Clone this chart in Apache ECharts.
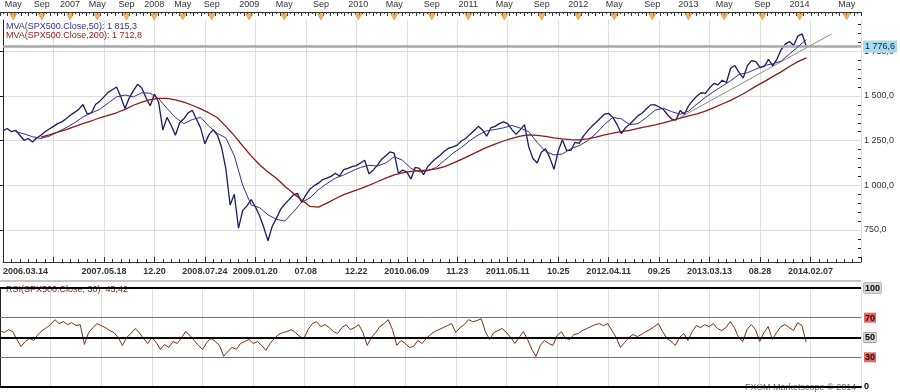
<!DOCTYPE html>
<html><head><meta charset="utf-8">
<script src="https://cdn.jsdelivr.net/npm/echarts@6/dist/echarts.min.js"></script>
<style>html,body{margin:0;padding:0;background:#fff}#c{width:900px;height:392px}</style>
</head><body><div id="c"></div>
<script>
// x unit = trading week index; price & RSI every 2 weeks, moving averages every 4 weeks
const priceStep = 2;
const maStep = 4;
const close = [
1305,1318,1300,1308,1280,1252,1262,1242,1265,1280,
1300,1315,1330,1345,1355,1372,1392,1408,1425,1452,
1400,1405,1452,1470,1495,1520,1535,1550,1495,1430,
1488,1530,1565,1545,1490,1445,1510,1465,1310,1380,
1335,1280,1350,1372,1405,1420,1370,1320,1232,1285,
1310,1280,1210,1090,890,950,760,860,885,920,
880,830,765,690,770,815,865,895,920,945,
955,905,945,980,998,1012,1032,1040,1050,1068,
1052,1088,1095,1105,1110,1125,1140,1065,1085,1112,
1145,1165,1187,1180,1068,1085,1075,1035,1100,1095,
1060,1105,1130,1152,1170,1192,1208,1215,1225,1248,
1262,1285,1305,1330,1310,1275,1322,1330,1345,1355,
1345,1312,1285,1312,1340,1215,1150,1125,1185,1205,
1155,1090,1190,1255,1195,1195,1240,1235,1275,1305,
1330,1352,1375,1398,1402,1380,1340,1290,1322,1342,
1365,1390,1405,1428,1450,1450,1438,1425,1395,1370,
1365,1418,1398,1445,1475,1500,1518,1515,1545,1570,
1562,1588,1575,1655,1670,1632,1600,1670,1698,1692,
1658,1665,1705,1668,1705,1758,1790,1805,1782,1835,
1848,1776.6];
const ma50Start = 6;
const ma50 = [
1300,1288,1272,1262,1275,1298,1322,1350,1382,1405,
1425,1460,1495,1505,1495,1518,1515,1485,1430,1380,
1345,1368,1380,1330,1290,1265,1165,1000,890,875,
835,810,800,850,905,930,975,1010,1040,1058,
1080,1100,1112,1108,1125,1160,1140,1095,1075,1082,
1100,1140,1180,1212,1250,1282,1305,1312,1322,1335,
1320,1300,1240,1190,1170,1175,1205,1222,1250,1290,
1340,1380,1372,1340,1345,1380,1420,1432,1412,1398,
1415,1455,1492,1525,1555,1585,1620,1630,1650,1670,
1680,1695,1735,1775,1815.3];
const ma200Start = 18;
const ma200 = [
1270,1282,1297,1312,1328,1345,1360,1378,1392,1406,
1425,1448,1466,1480,1487,1486,1478,1465,1448,1428,
1405,1378,1330,1278,1220,1165,1115,1075,1040,995,
955,918,882,878,900,925,948,965,982,1000,
1020,1040,1058,1070,1078,1082,1085,1092,1105,1124,
1145,1168,1190,1212,1230,1248,1262,1275,1282,1280,
1274,1266,1260,1256,1254,1260,1270,1282,1292,1300,
1308,1318,1328,1338,1350,1362,1376,1388,1400,1415,
1435,1455,1475,1500,1525,1555,1580,1608,1635,1665,
1692,1712.8];
const rsi30 = [
57,55,58,56,48,41,46,49,47,53,
57,60,63,68,64,66,63,65,62,63,
43,55,60,64,62,60,57,55,50,42,
50,54,59,55,49,44,50,45,38,43,
40,46,44,50,56,52,47,42,38,45,
49,46,42,31,36,40,38,44,46,48,
44,46,42,37,44,49,53,55,56,58,
55,51,49,58,64,66,61,63,60,56,
54,60,63,58,60,63,55,42,50,55,
61,64,68,58,42,47,44,40,41,47,
44,49,53,56,58,60,62,64,55,60,
63,68,66,67,69,56,48,55,57,59,
55,50,44,50,56,48,38,31,42,47,
44,42,52,56,49,48,53,54,57,59,
61,63,64,62,64,57,50,40,45,50,
53,51,53,56,58,61,64,56,49,46,
42,50,54,47,56,62,60,63,61,64,
59,57,60,66,60,50,46,58,63,58,
46,55,61,48,55,61,63,60,57,65,
62,45.42];
const trendLine = [[322, 1380], [394, 1847]];
const topTickWeeks = [6.3,19.8,33.2,46.1,60,73.1,86.6,100.3,118.1,134.7,152.1,169.8,186.8,204.6,221.9,239,256.7,274,291.1,309.1,326.2,343.2,361.2,378.9,401.2];
const topLabels = ['May','Sep','2007','May','Sep','2008','May','Sep','2009','May','Sep','2010','May','Sep','2011','May','Sep','2012','May','Sep','2013','May','Sep','2014','May'];
const bottomLabels = ['2006.03.14','','2007.05.18','12.20','2008.07.24','2009.01.20','07.08','12.22','2010.06.09','11.23','2011.05.11','10.25','2012.04.11','09.25','2013.03.13','08.28','2014.02.07',''];
const priceTicks = [750,1000,1250,1500,1750];
const priceMinorTicks = [600,650,700,800,850,900,950,1050,1100,1150,1200,1300,1350,1400,1450,1550,1600,1650,1700,1800,1850,1900];
const rsiTicks = [0,30,50,70,100];
const rsiLevels = [100,70,50,30];

function fmt(v, d) {
  const s = v.toFixed(d).split('.');
  return s[0].replace(/\B(?=(\d{3})+(?!\d))/g, ' ') + (d ? ',' + s[1] : '');
}
const lastClose = close[close.length - 1];
const FONT = '"Liberation Sans", Arial, sans-serif';

const chart = echarts.init(document.getElementById('c'), null, {renderer: 'canvas'});
const W = 861;
chart.setOption({
  animation: false,
  backgroundColor: '#fff',
  textStyle: {fontFamily: FONT},
  grid: [
    {left: 0, top: 20, width: W, height: 242},
    {left: 0, top: 288, width: W, height: 99},
    {left: 0, top: 12, width: W, height: 8}
  ],
  xAxis: [
    {gridIndex: 0, type: 'value', min: 0, max: 408, interval: 24, position: 'bottom',
     axisLine: {onZero: false, lineStyle: {color: '#333', width: 1}},
     axisTick: {inside: true, length: 5, lineStyle: {color: '#333'}},
     minorTick: {show: true, splitNumber: 6, length: 3, lineStyle: {color: '#333'}},
     axisLabel: {formatter: v => bottomLabels[Math.round(v / 24)] || '', fontSize: 9, fontWeight: 'bold', color: '#333', margin: 5, fontFamily: FONT, alignMinLabel: 'left', showMinLabel: true, showMaxLabel: false},
     splitLine: {show: true, lineStyle: {color: '#dedede'}}},
    {gridIndex: 1, type: 'value', min: 0, max: 408, interval: 24, position: 'bottom',
     axisLine: {onZero: false, lineStyle: {color: '#000', width: 2}},
     axisTick: {show: false}, axisLabel: {show: false},
     splitLine: {show: true, lineStyle: {color: '#dedede'}}},
    {gridIndex: 2, type: 'value', min: 0, max: 408, interval: 3.4, position: 'top',
     axisLine: {onZero: false, lineStyle: {color: '#333', width: 1}},
     axisTick: {inside: true, length: 4, lineStyle: {color: '#333'}},
     minorTick: {show: true, splitNumber: 2, length: 2, lineStyle: {color: '#333'}},
     axisLabel: {customValues: topTickWeeks, formatter: v => topLabels[topTickWeeks.indexOf(v)] || '', fontSize: 9, color: '#333', margin: 3, fontFamily: FONT},
     splitLine: {show: false}}
  ],
  yAxis: [
    {gridIndex: 0, type: 'value', min: 571, max: 1925, position: 'right',
     axisLine: {show: true, lineStyle: {color: '#222'}},
     axisTick: {customValues: priceTicks, inside: true, length: 8, lineStyle: {color: '#222'}},
     axisLabel: {customValues: priceTicks, formatter: v => fmt(v, 1), fontSize: 9, color: '#333', margin: 3, fontFamily: FONT},
     splitLine: {show: true, lineStyle: {color: '#dedede'}}},
    {gridIndex: 0, type: 'value', min: 571, max: 1925, position: 'right',
     axisLine: {show: false},
     axisTick: {customValues: priceMinorTicks, inside: true, length: 3, lineStyle: {color: '#222'}},
     axisLabel: {show: false}, splitLine: {show: false}},
    {gridIndex: 1, type: 'value', min: 0, max: 100, interval: 10, position: 'right',
     axisLine: {show: true, lineStyle: {color: '#222'}},
     axisTick: {inside: true, length: 3, lineStyle: {color: '#222'}},
     axisLabel: {customValues: rsiTicks, fontSize: 9, margin: 3, fontFamily: FONT,
       formatter: v => (v === 70 || v === 30) ? '{r|' + v + '}' : ((v === 100 || v === 50) ? '{g|' + v + '}' : '{n|' + v + '}'),
       rich: {
         r: {backgroundColor: '#e06a6a', color: '#3a0000', fontWeight: 'bold', fontSize: 9, padding: [1, 1, 0, 1]},
         g: {backgroundColor: '#d6d6d6', borderColor: '#777', borderWidth: 0.5, color: '#000', fontWeight: 'bold', fontSize: 9, padding: [1, 1, 0, 1]},
         n: {color: '#000', fontWeight: 'bold', fontSize: 9}
       }},
     splitLine: {show: false}},
    {gridIndex: 2, type: 'value', min: 0, max: 1, show: false}
  ],
  series: [
    {name: 'close', type: 'line', xAxisIndex: 0, yAxisIndex: 0, symbol: 'none', z: 4,
     data: close.map((v, i) => [i * priceStep, v]),
     lineStyle: {color: '#1a1a66', width: 1.3},
     markLine: {silent: true, symbol: 'none', animation: false,
       lineStyle: {color: '#a8a8a8', width: 2.5, type: 'solid'},
       label: {position: 'end', distance: 2, formatter: () => fmt(lastClose, 1), backgroundColor: '#a6daf0', color: '#0b2447', fontSize: 9, padding: [2, 2, 1, 2], fontFamily: FONT},
       data: [{yAxis: lastClose}]}},
    {name: 'ma50', type: 'line', xAxisIndex: 0, yAxisIndex: 0, symbol: 'none', z: 5,
     data: ma50.map((v, k) => [ma50Start + k * maStep, v]),
     lineStyle: {color: '#3a2d85', width: 1}},
    {name: 'ma200', type: 'line', xAxisIndex: 0, yAxisIndex: 0, symbol: 'none', z: 5,
     data: ma200.map((v, k) => [ma200Start + k * maStep, v]),
     lineStyle: {color: '#8b1a1a', width: 1.3}},
    {name: 'trend', type: 'line', xAxisIndex: 0, yAxisIndex: 0, symbol: 'none', z: 3, clip: false,
     data: trendLine, lineStyle: {color: '#8c8c8c', width: 1}},
    {name: 'rsi', type: 'line', xAxisIndex: 1, yAxisIndex: 2, symbol: 'none', z: 4,
     data: rsi30.map((v, i) => [i * priceStep, v]),
     lineStyle: {color: '#7b2d0e', width: 1},
     markLine: {silent: true, symbol: 'none', animation: false, label: {show: false},
       data: rsiLevels.map(l => ({yAxis: l, lineStyle: {color: (l === 70 || l === 30) ? '#a8605a' : '#000', width: (l === 70 || l === 30) ? 1 : 2, type: 'solid'}}))}},
    {name: 'markers', type: 'scatter', xAxisIndex: 2, yAxisIndex: 3, symbol: 'triangle', symbolRotate: 180,
     symbolSize: [7, 6], z: 5,
     itemStyle: {color: '#f2a32a', borderColor: '#a86a10', borderWidth: 0.5},
     data: topTickWeeks.map(w => [w, 0.4])}
  ],
  graphic: [
    {type: 'line', z: 0, shape: {x1: 0, y1: 281, x2: 861, y2: 281}, style: {stroke: '#c4c4c4', lineWidth: 2}},
    {type: 'text', z: 10, left: 6, top: 22, style: {text: 'MVA(SPX500.Close,50): ' + fmt(ma50[ma50.length - 1], 1), fill: '#3a2d85', font: '9px ' + FONT}},
    {type: 'text', z: 10, left: 6, top: 31, style: {text: 'MVA(SPX500.Close,200): ' + fmt(ma200[ma200.length - 1], 1), fill: '#8b1a1a', font: '9px ' + FONT}},
    {type: 'text', z: 0, left: 6, top: 285, style: {text: 'RSI(SPX500.Close, 30): ' + fmt(rsi30[rsi30.length - 1], 2), fill: '#6b2a10', font: '9px ' + FONT}},
    {type: 'text', z: 0, left: 745, top: 383, style: {text: 'FXCM Marketscope © 2014', fill: '#666', font: '9px ' + FONT}}
  ]
});
</script></body></html>
